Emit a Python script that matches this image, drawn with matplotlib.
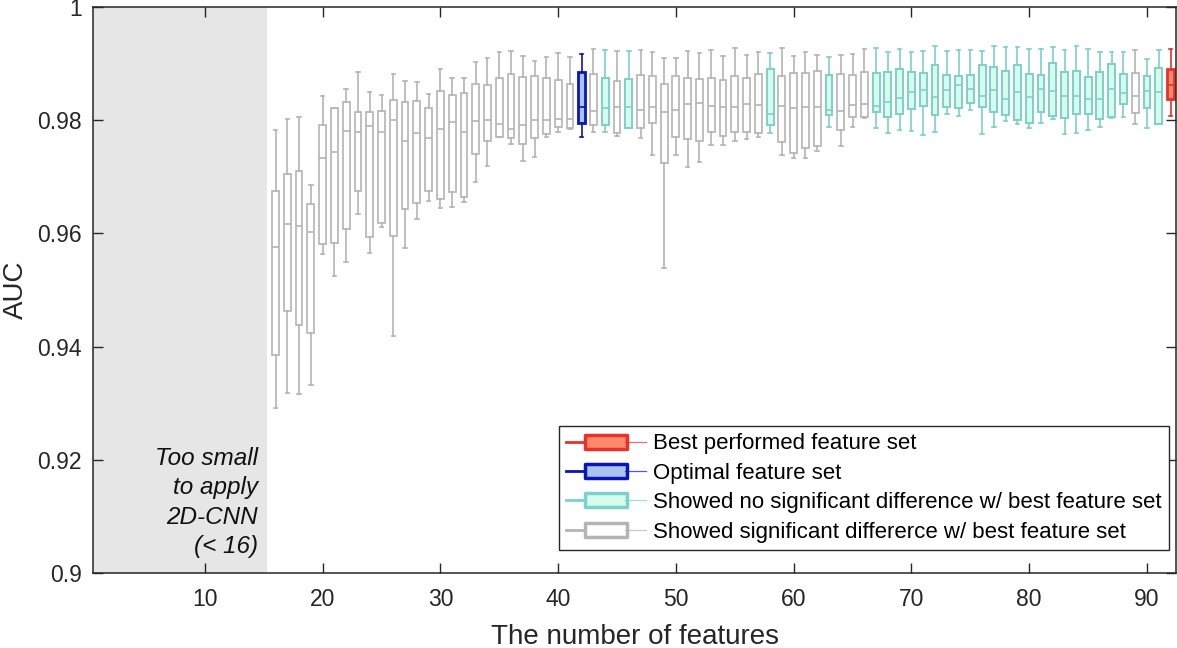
import matplotlib
matplotlib.use("Agg")
import matplotlib.pyplot as plt
from matplotlib.lines import Line2D
from matplotlib.path import Path
from matplotlib.legend_handler import HandlerTuple

plt.rcParams['font.family'] = ['Liberation Sans', 'DejaVu Sans']

# number of features for each box
n_features = list(range(16, 93))

# five-number summaries: whisker low, Q1, median, Q3, whisker high
whisker_lo = [0.9292, 0.9318, 0.9316, 0.9333, 0.9564, 0.9525, 0.9549, 0.9635, 0.9565, 0.9612,
              0.9419, 0.9574, 0.9626, 0.9658, 0.9645, 0.9647, 0.9655, 0.9691, 0.9719, 0.9770,
              0.9758, 0.9728, 0.9735, 0.9771, 0.9780, 0.9784, 0.9770, 0.9780, 0.9780, 0.9772,
              0.9787, 0.9768, 0.9739, 0.9539, 0.9739, 0.9718, 0.9726, 0.9757, 0.9757, 0.9764,
              0.9767, 0.9770, 0.9778, 0.9739, 0.9734, 0.9733, 0.9745, 0.9788, 0.9755, 0.9789,
              0.9804, 0.9786, 0.9777, 0.9783, 0.9781, 0.9774, 0.9779, 0.9811, 0.9807, 0.9818,
              0.9776, 0.9788, 0.9799, 0.9793, 0.9786, 0.9795, 0.9803, 0.9775, 0.9778, 0.9783,
              0.9789, 0.9804, 0.9805, 0.9794, 0.9786, 0.9793, 0.9808]
q1 = [0.9386, 0.9463, 0.9439, 0.9425, 0.9582, 0.9584, 0.9608, 0.9675, 0.9593, 0.9618,
      0.9596, 0.9643, 0.9653, 0.9675, 0.9661, 0.9674, 0.9664, 0.9741, 0.9763, 0.9770,
      0.9768, 0.9759, 0.9769, 0.9776, 0.9788, 0.9787, 0.9795, 0.9791, 0.9792, 0.9778,
      0.9787, 0.9787, 0.9795, 0.9724, 0.9771, 0.9767, 0.9764, 0.9779, 0.9772, 0.9780,
      0.9780, 0.9778, 0.9792, 0.9762, 0.9743, 0.9751, 0.9754, 0.9810, 0.9782, 0.9806,
      0.9805, 0.9814, 0.9805, 0.9811, 0.9820, 0.9826, 0.9810, 0.9824, 0.9821, 0.9830,
      0.9824, 0.9815, 0.9810, 0.9801, 0.9795, 0.9814, 0.9807, 0.9804, 0.9811, 0.9811,
      0.9803, 0.9806, 0.9829, 0.9813, 0.9821, 0.9793, 0.9837]
median = [0.9576, 0.9616, 0.9614, 0.9602, 0.9733, 0.9744, 0.9781, 0.9779, 0.9790, 0.9779,
          0.9801, 0.9764, 0.9778, 0.9769, 0.9785, 0.9797, 0.9779, 0.9799, 0.9801, 0.9794,
          0.9784, 0.9792, 0.9801, 0.9801, 0.9802, 0.9803, 0.9824, 0.9816, 0.9822, 0.9824,
          0.9824, 0.9818, 0.9823, 0.9815, 0.9818, 0.9828, 0.9830, 0.9825, 0.9823, 0.9824,
          0.9828, 0.9827, 0.9812, 0.9825, 0.9822, 0.9824, 0.9824, 0.9818, 0.9816, 0.9827,
          0.9828, 0.9826, 0.9832, 0.9840, 0.9850, 0.9854, 0.9841, 0.9854, 0.9863, 0.9855,
          0.9843, 0.9853, 0.9838, 0.9850, 0.9842, 0.9856, 0.9851, 0.9843, 0.9843, 0.9838,
          0.9838, 0.9855, 0.9849, 0.9843, 0.9851, 0.9850, 0.9862]
q3 = [0.9675, 0.9706, 0.9711, 0.9652, 0.9791, 0.9821, 0.9832, 0.9815, 0.9815, 0.9817,
      0.9836, 0.9832, 0.9835, 0.9821, 0.9851, 0.9844, 0.9849, 0.9865, 0.9863, 0.9875,
      0.9881, 0.9877, 0.9878, 0.9874, 0.9871, 0.9865, 0.9885, 0.9881, 0.9875, 0.9870,
      0.9873, 0.9880, 0.9879, 0.9864, 0.9878, 0.9874, 0.9873, 0.9875, 0.9871, 0.9878,
      0.9875, 0.9881, 0.9891, 0.9879, 0.9884, 0.9883, 0.9887, 0.9880, 0.9881, 0.9880,
      0.9885, 0.9884, 0.9885, 0.9891, 0.9885, 0.9883, 0.9898, 0.9880, 0.9878, 0.9880,
      0.9898, 0.9894, 0.9887, 0.9897, 0.9881, 0.9880, 0.9902, 0.9885, 0.9887, 0.9876,
      0.9885, 0.9899, 0.9881, 0.9884, 0.9878, 0.9893, 0.9891]
whisker_hi = [0.9782, 0.9802, 0.9805, 0.9686, 0.9843, 0.9822, 0.9855, 0.9885, 0.9850, 0.9845,
              0.9881, 0.9870, 0.9868, 0.9846, 0.9890, 0.9874, 0.9874, 0.9903, 0.9910, 0.9921,
              0.9922, 0.9913, 0.9904, 0.9912, 0.9919, 0.9911, 0.9917, 0.9926, 0.9924, 0.9922,
              0.9922, 0.9924, 0.9920, 0.9910, 0.9910, 0.9922, 0.9919, 0.9924, 0.9914, 0.9928,
              0.9916, 0.9921, 0.9919, 0.9927, 0.9913, 0.9920, 0.9916, 0.9911, 0.9916, 0.9917,
              0.9926, 0.9928, 0.9921, 0.9926, 0.9920, 0.9922, 0.9931, 0.9922, 0.9924, 0.9924,
              0.9923, 0.9931, 0.9930, 0.9930, 0.9926, 0.9926, 0.9930, 0.9924, 0.9932, 0.9926,
              0.9921, 0.9920, 0.9920, 0.9924, 0.9908, 0.9924, 0.9926]

best_set = 92
optimal_set = 42
no_sig_diff = [44, 46, 58, 63] + list(range(67, 89)) + [90, 91]

legend_labels = ['Best performed feature set',
                 'Optimal feature set',
                 'Showed no significant difference w/ best feature set',
                 'Showed significant differerce w/ best feature set']

styles = {
    'best': dict(edge='#e8302c', face='#ff8a6a', lw=2.0),
    'optimal': dict(edge='#0a14b8', face='#a9c4ef', lw=2.0),
    'nosig': dict(edge='#7ed0ca', face='#d6fcee', lw=1.4),
    'sig': dict(edge='#b4b4b4', face='#ffffff', lw=1.2),
}


def group_of(n):
    if n == best_set:
        return 'best'
    if n == optimal_set:
        return 'optimal'
    if n in no_sig_diff:
        return 'nosig'
    return 'sig'


stats = []
for i, n in enumerate(n_features):
    stats.append(dict(whislo=whisker_lo[i], q1=q1[i], med=median[i], q3=q3[i],
                      whishi=whisker_hi[i], fliers=[]))

fig = plt.figure(figsize=(11.77, 6.48), dpi=100)
ax = fig.add_axes([0.079, 0.1157, 0.9205, 0.8733])

ax.axvspan(0, 15.28, color='#e6e6e6', zorder=0, lw=0)
ax.text(14.5, 0.9026, 'Too small\nto apply\n2D-CNN\n(< 16)', ha='right', va='bottom',
        fontsize=17.5, style='italic', linespacing=1.36, color='#111111')

res = ax.bxp(stats, positions=n_features, widths=0.58, patch_artist=True,
             showfliers=False, capwidths=0.3, manage_ticks=False)

for i, n in enumerate(n_features):
    s = styles[group_of(n)]
    box = res['boxes'][i]
    box.set_facecolor(s['face'])
    box.set_edgecolor(s['edge'])
    box.set_linewidth(s['lw'])
    res['medians'][i].set_color(s['edge'])
    res['medians'][i].set_linewidth(1.2)
    for art in res['whiskers'][2 * i:2 * i + 2] + res['caps'][2 * i:2 * i + 2]:
        art.set_color(s['edge'])
        art.set_linewidth(1.2)

ax.set_xlim(0.5, 92.5)
ax.set_ylim(0.9, 1.0)
ax.set_xticks([10, 20, 30, 40, 50, 60, 70, 80, 90])
ax.set_yticks([0.9, 0.92, 0.94, 0.96, 0.98, 1.0])
ax.set_yticklabels(['0.9', '0.92', '0.94', '0.96', '0.98', '1'])
ax.tick_params(direction='in', length=7, width=1, top=True, right=True,
               labelsize=16.5, colors='#262626')
ax.tick_params(axis='y', pad=8)
ax.tick_params(axis='x', pad=11)
for sp in ax.spines.values():
    sp.set_color('#262626')
    sp.set_linewidth(1.1)
ax.set_xlabel('The number of features', fontsize=20, color='#262626', labelpad=9)
ax.set_ylabel('AUC', fontsize=20, color='#262626', labelpad=6)

# legend icons: horizontal box with whisker line
rect = Path([(-1, -0.33), (1, -0.33), (1, 0.33), (-1, 0.33), (-1, -0.33)],
            [Path.MOVETO, Path.LINETO, Path.LINETO, Path.LINETO, Path.CLOSEPOLY])
handles = []
for key in ['best', 'optimal', 'nosig', 'sig']:
    s = styles[key]
    line = Line2D([], [], color=s['edge'], lw=2.0)
    box = Line2D([], [], ls='none', marker=rect, markersize=30,
                 markerfacecolor=s['face'], markeredgecolor=s['edge'], markeredgewidth=2.5)
    mid = Line2D([], [], color=s['edge'], lw=0.9, alpha=0.7)
    handles.append((line, box, mid))

leg = ax.legend(handles, legend_labels, handler_map={tuple: HandlerTuple(ndivide=None)},
                loc='lower right', bbox_to_anchor=(0.9935, 0.04), fontsize=16,
                handlelength=3.6, handletextpad=0.3, borderpad=0.35, labelspacing=0.38,
                fancybox=False, framealpha=1, edgecolor='#262626', borderaxespad=0)
leg.get_frame().set_linewidth(1.0)

fig.savefig('out.png', dpi=100)
